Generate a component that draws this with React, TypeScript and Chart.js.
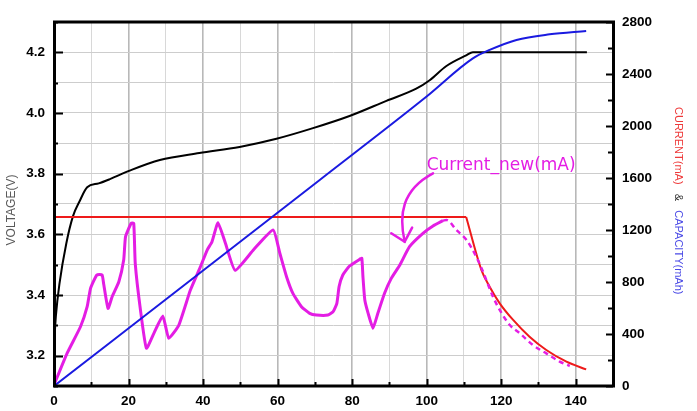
import React, { useEffect, useRef } from "react";
import { Chart, registerables } from "chart.js";
Chart.register(...registerables);

// ---- Data (time in minutes) ----
const voltageTime = [0, 0.5, 1.5, 3.3, 5.1, 6.9, 8.9, 12, 15, 20.3, 28.4, 39, 49.8, 59.7, 69.5, 79.3, 89.2, 97.2, 100.8, 105.3, 110.6, 112.4, 143];
const voltage = [3.23, 3.33, 3.44, 3.57, 3.66, 3.71, 3.755, 3.768, 3.782, 3.81, 3.845, 3.868, 3.888, 3.915, 3.95, 3.99, 4.04, 4.08, 4.108, 4.155, 4.19, 4.2, 4.2];

const capacityTime = [0, 47.1, 71.3, 99.9, 112.4, 116.9, 124.1, 133, 142.8];
const capacity = [0, 1046, 1585, 2225, 2520, 2585, 2662, 2705, 2731];

const ccTime = [0, 110.6];
const ccCurrent = [1300, 1300];
const cvTime = [110.6, 114.7, 116.9, 119.6, 123.2, 127.6, 132.1, 137.5, 142.8];
const cvCurrent = [1300, 892, 764, 636, 508, 379, 277, 187, 128];

const newTime = [0, 3.5, 7.1, 8.9, 9.8, 11.5, 12.9, 13.3, 14.5, 15.6, 17.4, 18.7, 19.2, 20.7, 21.4, 21.8, 23.2, 24.8, 26.8, 29.2, 30.8, 33.5, 36.6, 39.3, 41.1, 42.4, 44.0, 46.0, 48.6, 53.6, 58.8, 60.6, 62.4, 64.1, 66.4, 68.6, 70.4, 73.5, 74.9, 75.9, 76.5, 77.5, 79.3, 82.0, 82.6, 82.9, 83.4, 84.3, 85.6, 86.9, 88.7, 90.5, 92.8, 95.4, 99.0, 101.7, 104.4];
const newCurrent = [8, 251, 456, 610, 751, 854, 854, 790, 597, 687, 802, 969, 1149, 1251, 1251, 944, 585, 290, 405, 538, 367, 469, 738, 918, 1046, 1110, 1256, 1098, 890, 1050, 1200, 1021, 841, 713, 610, 559, 546, 546, 572, 636, 764, 854, 923, 974, 982, 841, 662, 559, 444, 559, 713, 828, 931, 1072, 1174, 1231, 1272];

const newTailTime = [104.4, 105.3, 108, 110.7, 113.3, 115.1, 117.8, 119.6, 122.3, 125, 128.5, 132.1, 135.7, 138.4];
const newTailCurrent = [1272, 1277, 1200, 1123, 995, 880, 687, 585, 469, 405, 315, 251, 187, 154];

const annotationText = "Current_new(mA)";
const annotationAt = [100, 1662];
// arrow path (time, mA): start, control1, control2, tip; head ends
const arrowPath = [[101.7, 1636], [93.3, 1508], [92.5, 1315], [94.1, 1110]];
const arrowHead = [[90.5, 1175], [96.1, 1218]];

const MAGENTA = "#e41de4";

const pts = (xs: number[], ys: number[]) => xs.map((x, i) => ({ x, y: ys[i] }));

const tickFont = { family: "Liberation Sans", weight: "bold" as const, size: 13.5 };

const decorPlugin = {
  id: "decor",
  afterDatasetsDraw(chart: any) {
    const { ctx, chartArea: a, scales } = chart;
    const sx = scales.x, sr = scales.y1, sl = scales.y;
    const P = (p: number[]) => [sx.getPixelForValue(p[0]), sr.getPixelForValue(p[1])];
    ctx.save();

    // annotation text + arrow
    ctx.fillStyle = MAGENTA;
    ctx.font = "17px 'DejaVu Sans'";
    ctx.textBaseline = "alphabetic";
    ctx.textAlign = "left";
    const tp = P(annotationAt);
    ctx.fillText(annotationText, tp[0], tp[1]);
    ctx.strokeStyle = MAGENTA;
    ctx.lineWidth = 2.5;
    ctx.lineCap = "round";
    const [p0, p1, p2, p3] = arrowPath.map(P);
    ctx.beginPath();
    ctx.moveTo(p0[0], p0[1]);
    ctx.bezierCurveTo(p1[0], p1[1], p2[0], p2[1], p3[0], p3[1]);
    ctx.stroke();
    const h1 = P(arrowHead[0]), h2 = P(arrowHead[1]);
    ctx.beginPath();
    ctx.moveTo(h1[0], h1[1]);
    ctx.lineTo(p3[0], p3[1]);
    ctx.lineTo(h2[0], h2[1]);
    ctx.stroke();

    // inward ticks
    ctx.strokeStyle = "#000";
    ctx.lineWidth = 2;
    ctx.lineCap = "butt";
    ctx.beginPath();
    sx.ticks.forEach((t: any) => {
      const px = Math.round(sx.getPixelForValue(t.value)) + 0.5;
      const len = Math.round(t.value) % 20 === 0 ? 7 : 4;
      ctx.moveTo(px, a.bottom);
      ctx.lineTo(px, a.bottom - len);
    });
    sl.ticks.forEach((t: any) => {
      const py = Math.round(sl.getPixelForValue(t.value)) + 0.5;
      const len = Math.round(t.value * 10) % 2 === 0 ? 9 : 4;
      ctx.moveTo(a.left, py);
      ctx.lineTo(a.left + len, py);
    });
    sr.ticks.forEach((t: any) => {
      const py = Math.round(sr.getPixelForValue(t.value)) + 0.5;
      const len = Math.round(t.value) % 400 === 0 ? 7 : 5;
      ctx.moveTo(a.right, py);
      ctx.lineTo(a.right - len, py);
    });
    ctx.stroke();

    // frame
    ctx.lineWidth = 3;
    ctx.strokeRect(a.left + 0.5, a.top, a.right - a.left, a.bottom - a.top);

    // left title
    ctx.save();
    ctx.translate(12, 210);
    ctx.rotate(-Math.PI / 2);
    ctx.font = "12px 'Liberation Sans'";
    ctx.fillStyle = "#5a5a5a";
    ctx.textAlign = "center";
    ctx.textBaseline = "middle";
    ctx.fillText("VOLTAGE(V)", 0, 0);
    ctx.restore();

    // right title
    ctx.save();
    ctx.translate(678, 107);
    ctx.rotate(Math.PI / 2);
    ctx.font = "11px 'Liberation Sans'";
    ctx.textAlign = "left";
    ctx.textBaseline = "middle";
    const parts: [string, string][] = [["CURRENT(mA)", "#ee3a3a"], ["   &   ", "#333"], ["CAPACITY(mAh)", "#4a4ae6"]];
    let off = 0;
    parts.forEach(([s, c]) => {
      ctx.fillStyle = c;
      ctx.fillText(s, off, 0);
      off += ctx.measureText(s).width;
    });
    ctx.restore();

    ctx.restore();
  },
};

export default function App() {
  const ref = useRef<HTMLCanvasElement | null>(null);
  useEffect(() => {
    if (!ref.current) return;
    const chart = new Chart(ref.current, {
      type: "line",
      data: {
        datasets: [
          {
            label: "Capacity",
            data: pts(capacityTime, capacity),
            yAxisID: "y1",
            borderColor: "#1a1ae0",
            borderWidth: 2,
            pointRadius: 0,
            cubicInterpolationMode: "monotone",
            order: 0,
          },
          {
            label: "Current_new",
            data: pts(newTime, newCurrent),
            yAxisID: "y1",
            borderColor: MAGENTA,
            borderWidth: 3,
            pointRadius: 0,
            tension: 0.15,
            order: 1,
          },
          {
            label: "Current_new tail",
            data: pts(newTailTime, newTailCurrent),
            yAxisID: "y1",
            borderColor: MAGENTA,
            borderWidth: 2.5,
            borderDash: [5, 4],
            pointRadius: 0,
            cubicInterpolationMode: "monotone",
            order: 2,
          },
          {
            label: "Current CC",
            data: pts(ccTime, ccCurrent),
            yAxisID: "y1",
            borderColor: "#ee1a1a",
            borderWidth: 2,
            pointRadius: 0,
            order: 3,
          },
          {
            label: "Current CV",
            data: pts(cvTime, cvCurrent),
            yAxisID: "y1",
            borderColor: "#ee1a1a",
            borderWidth: 2,
            pointRadius: 0,
            cubicInterpolationMode: "monotone",
            order: 3,
          },
          {
            label: "Voltage",
            data: pts(voltageTime, voltage),
            yAxisID: "y",
            borderColor: "#000000",
            borderWidth: 2,
            pointRadius: 0,
            cubicInterpolationMode: "monotone",
            order: 5,
          },
        ],
      },
      options: {
        animation: false,
        responsive: false,
        devicePixelRatio: 1,
        layout: { padding: { top: 22, left: 0, right: 0, bottom: 0 } },
        plugins: { legend: { display: false }, tooltip: { enabled: false } },
        scales: {
          x: {
            type: "linear",
            min: 0,
            max: 150,
            afterFit: (s: any) => { s.height = 25; },
            border: { display: false },
            grid: {
              drawTicks: false,
              color: (c: any) => (Math.round(c.tick.value) % 20 === 0 ? "#b8b8b8" : "#d8d8d8"),
              lineWidth: (c: any) => (Math.round(c.tick.value) % 20 === 0 ? 1.6 : 1),
            },
            ticks: {
              stepSize: 10,
              autoSkip: false,
              maxRotation: 0,
              padding: 7,
              color: "#000",
              font: tickFont,
              callback: (v: any) => (Math.round(v) % 20 === 0 ? String(v) : ""),
            },
          },
          y: {
            type: "linear",
            position: "left",
            min: 3.1,
            max: 4.3,
            afterFit: (s: any) => { s.width = 54; },
            border: { display: false },
            grid: { drawTicks: false, color: "#cdcdcd", lineWidth: 1 },
            ticks: {
              stepSize: 0.1,
              autoSkip: false,
              padding: 9,
              color: "#000",
              font: tickFont,
              callback: (v: any) => (Math.round(v * 10) % 2 === 0 ? Number(v).toFixed(1) : ""),
            },
          },
          y1: {
            type: "linear",
            position: "right",
            min: 0,
            max: 2800,
            afterFit: (s: any) => { s.width = 84; },
            border: { display: false },
            grid: { display: false, drawTicks: false },
            ticks: {
              stepSize: 200,
              autoSkip: false,
              padding: 9,
              color: "#000",
              font: tickFont,
              callback: (v: any) => (Math.round(v) % 400 === 0 ? String(v) : ""),
            },
          },
        },
      },
      plugins: [decorPlugin],
    } as any);
    return () => chart.destroy();
  }, []);
  return (
    <div style={{ position: "absolute", left: 0, top: 0, width: 697, height: 411, background: "#fff" }}>
      <canvas ref={ref} width={697} height={411} style={{ display: "block" }} />
    </div>
  );
}
